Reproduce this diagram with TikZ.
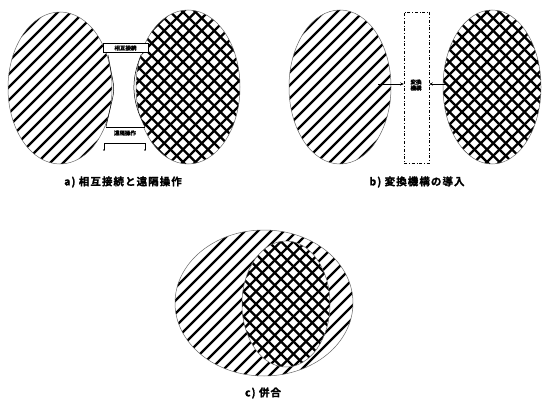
\documentclass[tikz,border=0pt]{standalone}
\usepackage{fontspec}
\usetikzlibrary{arrows.meta}
\newfontfamily\cjk{Noto Sans CJK JP}[BoldFont={Noto Sans CJK JP Bold},BoldFeatures={FakeBold=1.2}]
\newfontfamily\cjkwide{Noto Sans CJK JP}[BoldFont={Noto Sans CJK JP Bold},BoldFeatures={FakeBold=1.5,LetterSpace=10}]
\newcommand\diagH[2]{\foreach \k in {-182,-169,...,182}{\draw[hatch] (#1+\k-130,#2+130) -- (#1+\k+130,#2-130);}}
\newcommand\crossH[2]{\foreach \k in {-180,-167.5,...,180}{\draw[xhatch] (#1+\k-130,#2+130) -- (#1+\k+130,#2-130);
  \draw[xhatch] (#1+\k-130,#2-130) -- (#1+\k+130,#2+130);}}
\begin{document}
\begin{tikzpicture}[x=1pt,y=-1pt,
  hatch/.style={line width=2.3pt,black},
  xhatch/.style={line width=2.2pt,black},
  rim/.style={line width=0.5pt,black!60},
  lab/.style={font=\cjkwide\bfseries\fontsize{10.5}{12}\selectfont},
  small/.style={font=\cjk\bfseries\fontsize{5.5}{6}\selectfont,inner sep=0.5pt},
  thin/.style={line width=0.5pt,black},
  arr/.style={thin,-{Stealth[length=3.5pt,width=3pt]}}]
\useasboundingbox (0,0) rectangle (543,401);
% ---------- a) ----------
\begin{scope}\clip (60,88) ellipse [x radius=52,y radius=76];\diagH{60}{88}\end{scope}
\draw[rim] (60,88) ellipse [x radius=52,y radius=76];
\begin{scope}\clip (188,87) ellipse [x radius=52,y radius=77];\crossH{188}{87}\end{scope}
\draw[rim] (188,87) ellipse [x radius=52,y radius=77];
\fill[white] (103,46) -- (148,46) -- (141,55) .. controls (131,80) and (131,100) .. (145,127)
  -- (106,127) .. controls (116,100) and (116,80) .. (108,55) -- cycle;
\draw[thin] (141,55) .. controls (131,80) and (131,100) .. (145,127);
\draw[thin] (108,55) .. controls (116,100) and (116,80) .. (106,127);
\draw[thin] (106,127) -- (145,127);
\node[small,draw,thin,fill=white,minimum width=45pt,minimum height=9pt] (conn) at (125.5,48) {相互接続};
\node[small,fill=white] (remote) at (125,133) {遠隔操作};
\coordinate (bl) at (104,150);
\coordinate (br) at (145,150);
\draw[thin] (bl) -- (104,143) -- (145,143) -- (br);
\fill (bl) circle (0.8pt) (br) circle (0.8pt);
\node[lab] (la) at (123,182) {a) 相互接続と遠隔操作};
% ---------- b) ----------
\begin{scope}\clip (340,87) ellipse [x radius=51,y radius=77];\diagH{340}{87}\end{scope}
\draw[rim] (340,87) ellipse [x radius=51,y radius=77];
\begin{scope}\clip (492,87) ellipse [x radius=49,y radius=77];\crossH{492}{87}\end{scope}
\draw[rim] (492,87) ellipse [x radius=49,y radius=77];
\node[draw,thin,dash dot,minimum width=25pt,minimum height=151pt,inner sep=0] (conv) at (416.5,87.5) {};
\node[small,align=center] (convlab) at (416,85) {変換\\機構};
\coordinate (el) at (378,84);
\coordinate (er) at (446,84);
\draw[arr] (el) -- (conv.west |- el);
\draw[arr] (er) -- (conv.east |- er);
\node[lab] (lb) at (417,182) {b) 変換機構の導入};
% ---------- c) ----------
\begin{scope}\clip (264,303) ellipse [x radius=89,y radius=73];\diagH{264}{303}\end{scope}
\draw[rim] (264,303) ellipse [x radius=89,y radius=73];
\fill[white] (286,304) ellipse [x radius=44,y radius=63];
\begin{scope}\clip (286,304) ellipse [x radius=44,y radius=63];\crossH{286}{304}\end{scope}
\draw[rim] (286,304) ellipse [x radius=44,y radius=63];
\node[lab] (lc) at (263,393) {c) 併合};
\end{tikzpicture}
\end{document}
